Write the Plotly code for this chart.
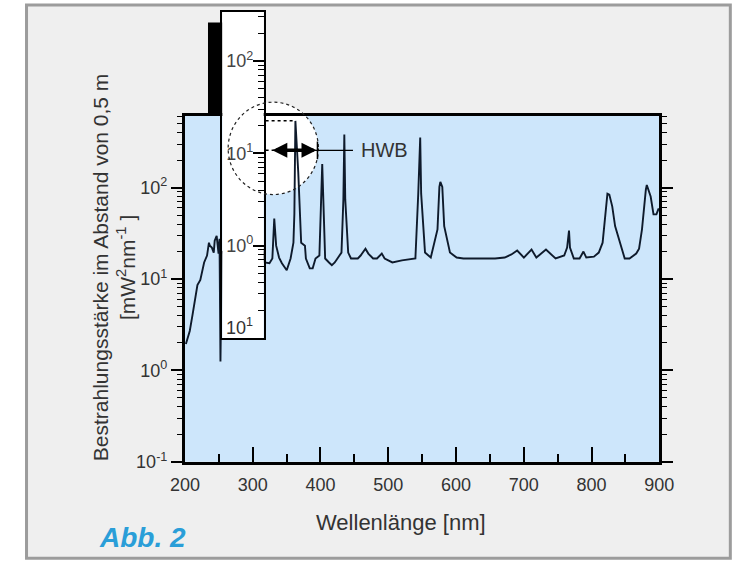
import plotly.graph_objects as go

W, H = 753, 576

# ---------------- data ----------------
wavelength_nm = [201.4, 207.1, 211.3, 218.4, 222.7, 225.5, 228.3, 232.6, 235.4, 236.8,
                 239.7, 242.5, 243.9, 246.8, 249.6, 251.0, 252.4, 254.5, 265, 280,
                 296, 303, 313, 317.6, 324.7, 329.0, 331.8, 334.6, 338.9, 343.1,
                 350.2, 355.9, 360.1, 361.5, 363.0, 367.2, 370.0, 371.5, 377.1, 378.5,
                 384.2, 388.5, 392.7, 398.4, 402.6, 405.5, 406.9, 412.6, 416.8, 421.1,
                 431.0, 433.8, 435.2, 436.6, 440.9, 445.1, 455.1, 459.3, 466.4, 470.6,
                 477.7, 483.4, 490.5, 494.7, 506.1, 520.2, 540.1, 544.3, 547.2, 548.6,
                 554.3, 562.8, 572.7, 575.5, 576.9, 579.8, 582.6, 591.1, 601.0, 611.0,
                 619.4, 633.6, 647.8, 657.7, 671.9, 681.8, 690.3, 700.2, 711.5, 718.6,
                 732.8, 739.9, 747.0, 759.7, 764.0, 766.8, 768.2, 773.9, 782.4, 788.1,
                 792.3, 803.6, 810.7, 816.4, 820.6, 823.5, 826.3, 830.6, 834.8, 841.9,
                 849.0, 856.1, 866.0, 870.2, 874.5, 880.2, 881.6, 887.3, 891.5, 895.8,
                 898.6, 900.0]

irradiance = [1.95, 2.7, 4.1, 8.6, 9.8, 11.9, 15.2, 18.1, 25, 23.2,
              22.1, 19.5, 26.3, 29.7, 19.0, 27.6, 1.25, 20, 18, 16,
              18, 20, 25, 15.2, 14.9, 16.8, 46, 23.2, 17.2, 14.9,
              12.5, 16.8, 25, 52, 538, 149, 52, 25, 23.2, 16.8,
              13.1, 13.1, 16.8, 18.1, 181, 38, 16.8, 15.2, 14.2, 15.2,
              19.5, 74, 381, 74, 19.5, 16.8, 16.8, 18.1, 21.5, 19,
              16.8, 16.8, 19, 16.8, 15.2, 16, 16.8, 86, 353, 86,
              19.5, 17.2, 35, 102, 116, 102, 38, 19.5, 17.2, 16.8,
              16.8, 16.8, 16.8, 16.8, 17.2, 18.6, 20.5, 17.2, 21, 17.2,
              21, 18.6, 16.8, 18.1, 22.1, 34, 22.1, 16.8, 16.8, 20,
              17.2, 17.6, 19.5, 25, 48.8, 86, 84, 62.5, 38, 25,
              16.8, 16.8, 19, 21.5, 35, 95, 107, 80, 51, 51,
              58, 58]

x_tickvals = [200, 300, 400, 500, 600, 700, 800, 900]
y_tickvals = [0.1, 1, 10, 100]
y_ticktext = ["10<sup>-1</sup>", "10<sup>0</sup>", "10<sup>1</sup>", "10<sup>2</sup>"]
inset_tickvals = [1, 10, 100]
inset_ticktext = ["10<sup>0</sup>", "10<sup>1</sup>", "10<sup>2</sup>"]
inset_bottom_label = "10<sup>1</sup>"

x_title = "Wellenlänge [nm]"
y_title = "Bestrahlungsstärke im Abstand von 0,5 m<br>[mW<sup>2</sup>nm<sup>-1</sup> ]"
fig_label = "Abb. 2"
hwb_label = "HWB"

minor_vals = [k * 10.0 ** e for e in range(-1, 3) for k in range(2, 10)]

# ---------------- layout helpers (pixel -> paper) ----------------
def fx(px):
    return px / W

def fy(py):
    return 1 - py / H

FONT = "Liberation Sans, Arial, sans-serif"
TXT = "#333333"

fig = go.Figure()
fig.add_trace(go.Scatter(x=wavelength_nm, y=irradiance, mode="lines",
                         line=dict(color="#0e1a2b", width=1.9),
                         showlegend=False, hoverinfo="skip"))
# empty trace for the inset scale
fig.add_trace(go.Scatter(x=[None], y=[None], xaxis="x2", yaxis="y2",
                         showlegend=False, hoverinfo="skip"))

fig.update_layout(
    width=W, height=H,
    margin=dict(l=0, r=0, t=0, b=0),
    paper_bgcolor="white",
    plot_bgcolor="white",
    font=dict(family=FONT, size=18, color=TXT),
    xaxis=dict(domain=[fx(177), fx(671)], range=[200, 900], anchor="y",
               showline=True, linecolor="black", linewidth=3, mirror=True,
               ticks="inside", ticklen=15, tickwidth=1.5, tickcolor="black",
               tickvals=x_tickvals, showgrid=False, zeroline=False,
               ticklabelstandoff=5,
               minor=dict(dtick=50, tick0=0, ticks="inside", ticklen=8,
                          tickwidth=1.5, tickcolor="black", showgrid=False)),
    yaxis=dict(domain=[fy(470), fy(118)], type="log", range=[-1, 2.785], anchor="x",
               showline=True, linecolor="black", linewidth=3, mirror="ticks",
               ticks="outside", ticklen=11, tickwidth=1.5, tickcolor="black",
               tickvals=y_tickvals, ticktext=y_ticktext, showgrid=False,
               zeroline=False, ticklabelstandoff=0,
               minor=dict(tickvals=minor_vals, ticks="outside", ticklen=5,
                          tickwidth=1, tickcolor="black", showgrid=False)),
    xaxis2=dict(domain=[fx(216), fx(259)], range=[0, 1], anchor="y2",
                showline=True, linecolor="black", linewidth=2, mirror=True,
                ticks="", showticklabels=False, showgrid=False, zeroline=False),
    yaxis2=dict(domain=[fy(344), fy(12)], type="log", range=[-1, 2.532], anchor="x2",
                side="right", showline=True, linecolor="black", linewidth=2,
                mirror=True, ticks="inside", ticklen=11, tickwidth=1.5,
                tickcolor="black", ticklabelposition="inside",
                ticklabeloverflow="allow",
                tickvals=inset_tickvals, ticktext=inset_ticktext,
                showgrid=False, zeroline=False,
                minor=dict(tickvals=minor_vals, ticks="inside", ticklen=6,
                           tickwidth=1, tickcolor="black", showgrid=False)),
)

shapes = [
    # outer frame
    dict(type="rect", xref="paper", yref="paper", x0=fx(12), x1=fx(745),
         y0=fy(568), y1=fy(5), fillcolor="#efefef",
         line=dict(color="#9c9c9c", width=3), layer="below"),
    # black bar next to the inset
    dict(type="rect", xref="paper", yref="paper", x0=fx(201), x1=fx(216),
         y0=fy(118), y1=fy(23), fillcolor="black", line=dict(width=0), layer="below"),
    # light-blue plot background
    dict(type="rect", xref="x domain", yref="y domain", x0=0, x1=1, y0=0, y1=1,
         fillcolor="#cde6fb", line=dict(width=0), layer="below"),
    # magnifier circle fill
    dict(type="circle", xref="paper", yref="paper", x0=fx(222), x1=fx(316),
         y0=fy(198), y1=fy(104), fillcolor="white", line=dict(width=0), layer="below"),
    # magnifier circle outline
    dict(type="circle", xref="paper", yref="paper", x0=fx(222), x1=fx(316),
         y0=fy(198), y1=fy(104), line=dict(color="#222222", width=1.2, dash="dot"),
         layer="above"),
    # dotted peak level line
    dict(type="line", xref="paper", yref="paper", x0=fx(261), x1=fx(292),
         y0=fy(123), y1=fy(123), line=dict(color="black", width=1.5, dash="dot"),
         layer="above"),
    dict(type="line", xref="paper", yref="paper", x0=fx(261), x1=fx(270),
         y0=fy(153), y1=fy(153), line=dict(color="black", width=1.5, dash="dot"),
         layer="above"),
    # HWB bar
    dict(type="line", xref="paper", yref="paper", x0=fx(272), x1=fx(311),
         y0=fy(153), y1=fy(153), line=dict(color="black", width=3.5), layer="above"),
    dict(type="line", xref="paper", yref="paper", x0=fx(315), x1=fx(315),
         y0=fy(162), y1=fy(144), line=dict(color="black", width=1.5), layer="above"),
    dict(type="line", xref="paper", yref="paper", x0=fx(311), x1=fx(352),
         y0=fy(153), y1=fy(153), line=dict(color="black", width=1.3), layer="above"),
]
fig.update_layout(shapes=shapes)

annotations = [
    dict(xref="paper", yref="paper", x=fx(103), y=fy(272), text=y_title,
         textangle=-90, showarrow=False, font=dict(size=21, color=TXT),
         xanchor="center", yanchor="middle", align="center"),
    dict(xref="paper", yref="paper", x=fx(402), y=fy(532), text=x_title,
         showarrow=False, font=dict(size=22, color=TXT),
         xanchor="center", yanchor="middle"),
    dict(xref="paper", yref="paper", x=fx(180), y=fy(547), text="<b><i>" + fig_label + "</i></b>",
         showarrow=False, font=dict(size=28, color="#2a9ed8"),
         xanchor="right", yanchor="middle"),
    dict(xref="paper", yref="paper", x=fx(358), y=fy(153), text=hwb_label,
         showarrow=False, font=dict(size=20, color=TXT),
         xanchor="left", yanchor="middle"),
    dict(xref="paper", yref="paper", x=fx(250), y=fy(332), text=inset_bottom_label,
         showarrow=False, font=dict(size=18, color=TXT),
         xanchor="right", yanchor="middle"),
    # arrow heads of the HWB marker
    dict(xref="paper", yref="paper", x=fx(268), y=fy(153), ax=16, ay=0, text="",
         showarrow=True, arrowhead=2, arrowsize=1, arrowwidth=3, arrowcolor="black"),
    dict(xref="paper", yref="paper", x=fx(314), y=fy(153), ax=-16, ay=0, text="",
         showarrow=True, arrowhead=2, arrowsize=1, arrowwidth=3, arrowcolor="black"),
]
fig.update_layout(annotations=annotations)

fig.write_html("out.html", config={"displayModeBar": False},
               post_script="document.body.style.margin='0';")
